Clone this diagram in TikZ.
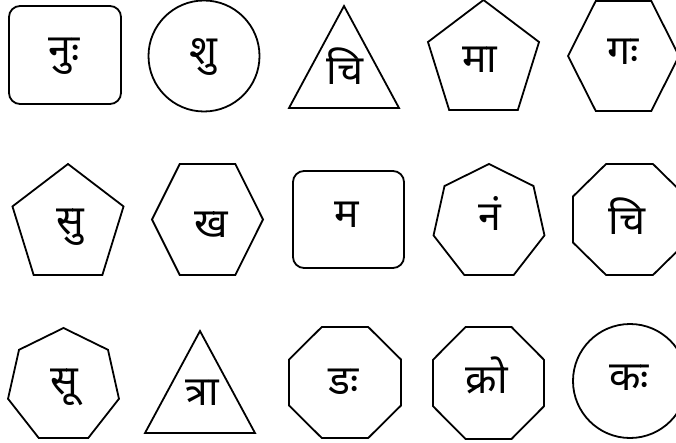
\documentclass[tikz,border=0pt]{standalone}
\usepackage{fontspec}
\usepackage{tikz}
\newfontfamily\deva[Script=Devanagari]{Noto Sans}

% outline of an n-sided polygon: centre x, centre y, sides, first angle, x radius, y radius
\newcommand{\polyoutline}[6]{%
  \draw[shapeline, shift={(#1,#2)}] (#4:#5 and #6)
    \foreach \k in {2,...,#3} { -- ({#4+(\k-1)*360/#3}:#5 and #6) } -- cycle;
}

\begin{document}
\begin{tikzpicture}[x=1pt, y=-1pt,
    shapeline/.style={draw, line width=1.8pt, line join=miter},
    akshara/.style={font=\deva\fontsize{41}{45}\selectfont, anchor=base, inner sep=0pt}]
      \useasboundingbox (0,0) rectangle (676,443);
      \clip (0,0) rectangle (676,443);

      % Top row
      \draw[shapeline, rounded corners=11] (9,6) rectangle (121,104);
      \node[akshara] (nu) at (64,64) {नुः};
      \draw[shapeline] (204,56) circle[radius=55.5];
      \node[akshara] (shu) at (203,65) {शु};
      \polyoutline{344}{74}{3}{-90}{63.5}{68}
      \node[akshara] (chiA) at (345,85) {चि};
      \polyoutline{483.5}{60.8}{5}{-90}{58.4}{60.8}
      \node[akshara] (maa) at (480,73) {मा};
      \polyoutline{623.5}{56}{6}{0}{55.5}{63.5}
      \node[akshara] (ga) at (623,65) {गः};

      % Middle row
      \polyoutline{68}{225.4}{5}{-90}{58.4}{61.4}
      \node[akshara] (su) at (70,235) {सु};
      \polyoutline{207.5}{219.5}{6}{0}{55.5}{64.1}
      \node[akshara] (kha) at (211,238) {ख};
      \draw[shapeline, rounded corners=11] (293,171) rectangle (404,268);
      \node[akshara] (ma) at (347,228) {म};
      \polyoutline{489}{222.4}{7}{-90}{56.9}{58.4}
      \node[akshara] (nam) at (490,231) {नं};
      \polyoutline{629.5}{219.5}{8}{22.5}{61.2}{60.1}
      \node[akshara] (chiB) at (627,235) {चि};

      % Bottom row
      \polyoutline{63.5}{385.9}{7}{-90}{56.9}{57.9}
      \node[akshara] (suu) at (64,394) {सू};
      \polyoutline{200}{399}{3}{-90}{63.5}{68}
      \node[akshara] (tra) at (202,405) {त्रा};
      \polyoutline{345}{382.5}{8}{22.5}{60.6}{60.1}
      \node[akshara] (da) at (344,394) {डः};
      \polyoutline{488.5}{383}{8}{22.5}{60.1}{60.6}
      \node[akshara] (kro) at (487,393) {क्रो};
      \draw[shapeline] (630,381) circle[radius=57];
      \node[akshara] (ka) at (629,390) {कः};
    \end{tikzpicture}
\end{document}
